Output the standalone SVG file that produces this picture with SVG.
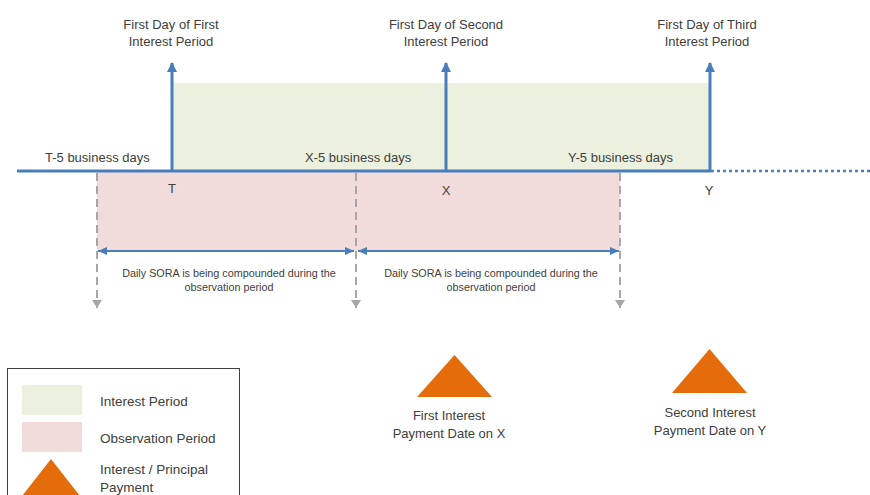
<svg xmlns="http://www.w3.org/2000/svg" width="870" height="495" viewBox="0 0 870 495">
<defs>
<style>
text{font-family:"Liberation Sans",Arial,sans-serif;fill:#404040}
.t13{font-size:13px}
.t11{font-size:10.8px}
.t14{font-size:13.5px}
.mid{text-anchor:middle}
.blue{stroke:#4a7ebb;fill:none}
.gray{stroke:#a6a6a6;stroke-width:2;stroke-dasharray:8 5;fill:none}
</style>
<marker id="upArrow" markerWidth="10" markerHeight="10" refX="9" refY="5" orient="auto" markerUnits="userSpaceOnUse" viewBox="0 0 10 10">
<path d="M0,0 L10,5 L0,10 Z" fill="#4a7ebb"/>
</marker>
<marker id="blueHead" markerWidth="9" markerHeight="8" refX="9" refY="4" orient="auto-start-reverse" markerUnits="userSpaceOnUse">
<path d="M0,0 L9,4 L0,8 Z" fill="#4a7ebb"/>
</marker>
<marker id="grayHead" markerWidth="10" markerHeight="8" refX="5" refY="8" orient="0" markerUnits="userSpaceOnUse">
<path d="M0,0 L10,0 L5,8 Z" fill="#a6a6a6"/>
</marker>
</defs>
<rect width="870" height="495" fill="#ffffff"/>

<g id="interest-period">
<rect x="172" y="83" width="538" height="88" fill="#ebf1de"/>
</g>
<g id="observation-period">
<rect x="97" y="171" width="523" height="80" fill="#f2dcdb"/>
</g>

<g id="connectors">
<line class="blue" x1="17" y1="171" x2="711" y2="171" stroke-width="3"/>
<line x1="711" y1="171" x2="870" y2="171" stroke="#4a7ebb" stroke-width="2.5" stroke-dasharray="3 3"/>
<line class="blue" x1="172" y1="171" x2="172" y2="63" stroke-width="3" marker-end="url(#upArrow)"/>
<line class="blue" x1="446" y1="171" x2="446" y2="63" stroke-width="3" marker-end="url(#upArrow)"/>
<line class="blue" x1="710" y1="171" x2="710" y2="63" stroke-width="3" marker-end="url(#upArrow)"/>
<line class="gray" x1="97" y1="173" x2="97" y2="308" marker-end="url(#grayHead)"/>
<line class="gray" x1="356" y1="173" x2="356" y2="308" marker-end="url(#grayHead)"/>
<line class="gray" x1="620" y1="173" x2="620" y2="308" marker-end="url(#grayHead)"/>
<line class="blue" x1="98" y1="251" x2="354" y2="251" stroke-width="2" marker-start="url(#blueHead)" marker-end="url(#blueHead)"/>
<line class="blue" x1="358" y1="251" x2="619" y2="251" stroke-width="2" marker-start="url(#blueHead)" marker-end="url(#blueHead)"/>
</g>

<g id="label-first-day-1">
<text class="t13 mid" x="171" y="29">First Day of First</text>
<text class="t13 mid" x="171" y="46">Interest Period</text>
</g>
<g id="label-first-day-2">
<text class="t13 mid" x="446" y="29">First Day of Second</text>
<text class="t13 mid" x="446" y="46">Interest Period</text>
</g>
<g id="label-first-day-3">
<text class="t13 mid" x="707" y="29">First Day of Third</text>
<text class="t13 mid" x="707" y="46">Interest Period</text>
</g>

<g id="business-days">
<text class="t13" x="45" y="162">T-5 business days</text>
<text class="t13" x="305" y="162">X-5 business days</text>
<text class="t13" x="568" y="162">Y-5 business days</text>
</g>

<g id="dates">
<text class="t13 mid" x="172" y="193">T</text>
<text class="t13 mid" x="446" y="195">X</text>
<text class="t13 mid" x="709" y="195">Y</text>
</g>

<g id="sora-1">
<text class="t11 mid" x="229" y="277">Daily SORA is being compounded during the</text>
<text class="t11 mid" x="229" y="291">observation period</text>
</g>
<g id="sora-2">
<text class="t11 mid" x="491" y="277">Daily SORA is being compounded during the</text>
<text class="t11 mid" x="491" y="291">observation period</text>
</g>

<g id="payment-1">
<polygon points="417,397 454.5,355 492,397" fill="#e46c0a"/>
<text class="t13 mid" x="449" y="420">First Interest</text>
<text class="t13 mid" x="449" y="438">Payment Date on X</text>
</g>
<g id="payment-2">
<polygon points="672,393 709.5,349 747,393" fill="#e46c0a"/>
<text class="t13 mid" x="710" y="417">Second Interest</text>
<text class="t13 mid" x="710" y="435">Payment Date on Y</text>
</g>

<g id="legend">
<rect x="7.5" y="368.5" width="232" height="140" fill="#ffffff" stroke="#404040" stroke-width="1"/>
<rect x="22" y="385" width="60" height="30" fill="#ebf1de"/>
<rect x="22" y="422" width="60" height="30" fill="#f2dcdb"/>
<polygon points="22,496 51,459 80,496" fill="#e46c0a"/>
<text class="t14" x="100" y="406">Interest Period</text>
<text class="t14" x="100" y="443">Observation Period</text>
<text class="t14" x="100" y="474">Interest / Principal</text>
<text class="t14" x="100" y="492">Payment</text>
</g>
</svg>
